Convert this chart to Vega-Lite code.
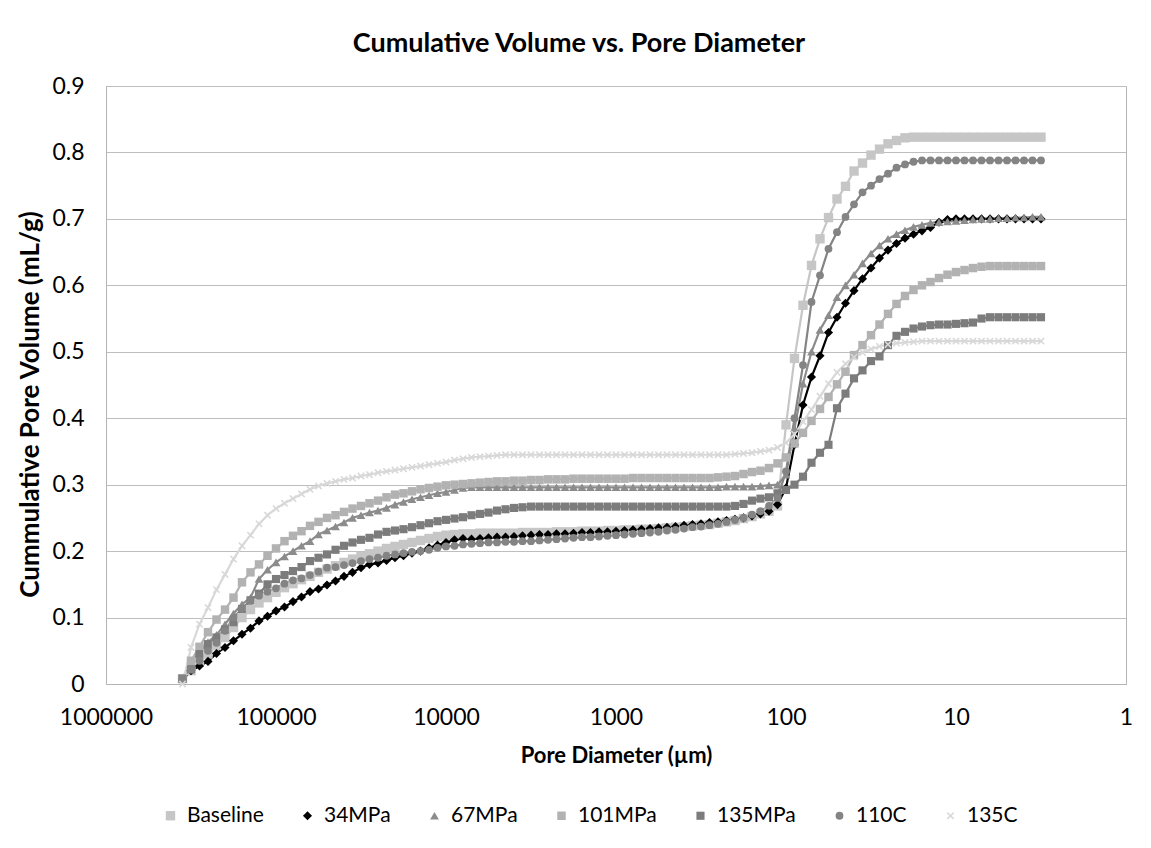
{
 "$schema": "https://vega.github.io/schema/vega-lite/v6.json",
 "width": 1020,
 "height": 598,
 "autosize": {"type": "none"},
 "padding": {"left": 106, "top": 86, "right": 25, "bottom": 164},
 "background": "white",
 "config": {
  "font": "Lato",
  "view": {"stroke": "#b4b4b4", "strokeWidth": 1},
  "axis": {"labelFont": "Lato", "titleFont": "Lato", "labelColor": "#000", "titleColor": "#000"}
 },
 "title": {"text": "Cumulative Volume vs. Pore Diameter", "font": "Lato", "fontSize": 27, "fontWeight": "bold", "color": "#000", "anchor": "middle", "offset": 17, "dx": -37},
 "data": {"values": [
  {"d":354813,"Baseline":0.008,"34MPa":0.006,"67MPa":0.008,"101MPa":0.008,"135MPa":0.008,"110C":0.008,"135C":0},
  {"d":316228,"Baseline":0.02,"34MPa":0.02,"67MPa":0.03,"101MPa":0.035,"135MPa":0.022,"110C":0.022,"135C":0.055},
  {"d":281838,"Baseline":0.033,"34MPa":0.027,"67MPa":0.05,"101MPa":0.056,"135MPa":0.045,"110C":0.035,"135C":0.09},
  {"d":251189,"Baseline":0.045,"34MPa":0.034,"67MPa":0.063,"101MPa":0.078,"135MPa":0.06,"110C":0.05,"135C":0.115},
  {"d":223872,"Baseline":0.058,"34MPa":0.046,"67MPa":0.074,"101MPa":0.097,"135MPa":0.07,"110C":0.062,"135C":0.142},
  {"d":199526,"Baseline":0.07,"34MPa":0.055,"67MPa":0.09,"101MPa":0.112,"135MPa":0.082,"110C":0.08,"135C":0.165},
  {"d":177828,"Baseline":0.085,"34MPa":0.065,"67MPa":0.106,"101MPa":0.13,"135MPa":0.093,"110C":0.1,"135C":0.188},
  {"d":158489,"Baseline":0.1,"34MPa":0.075,"67MPa":0.12,"101MPa":0.153,"135MPa":0.113,"110C":0.113,"135C":0.208},
  {"d":141254,"Baseline":0.112,"34MPa":0.084,"67MPa":0.13,"101MPa":0.168,"135MPa":0.126,"110C":0.125,"135C":0.224},
  {"d":125893,"Baseline":0.122,"34MPa":0.095,"67MPa":0.158,"101MPa":0.18,"135MPa":0.136,"110C":0.133,"135C":0.241},
  {"d":112202,"Baseline":0.13,"34MPa":0.102,"67MPa":0.172,"101MPa":0.193,"135MPa":0.15,"110C":0.139,"135C":0.254},
  {"d":100000,"Baseline":0.138,"34MPa":0.11,"67MPa":0.183,"101MPa":0.204,"135MPa":0.158,"110C":0.144,"135C":0.264},
  {"d":89125,"Baseline":0.145,"34MPa":0.116,"67MPa":0.192,"101MPa":0.215,"135MPa":0.164,"110C":0.151,"135C":0.272},
  {"d":79433,"Baseline":0.151,"34MPa":0.124,"67MPa":0.2,"101MPa":0.223,"135MPa":0.17,"110C":0.156,"135C":0.279},
  {"d":70795,"Baseline":0.157,"34MPa":0.131,"67MPa":0.208,"101MPa":0.23,"135MPa":0.176,"110C":0.159,"135C":0.286},
  {"d":63096,"Baseline":0.162,"34MPa":0.139,"67MPa":0.215,"101MPa":0.238,"135MPa":0.185,"110C":0.164,"135C":0.293},
  {"d":56234,"Baseline":0.168,"34MPa":0.143,"67MPa":0.225,"101MPa":0.244,"135MPa":0.19,"110C":0.169,"135C":0.298},
  {"d":50119,"Baseline":0.173,"34MPa":0.149,"67MPa":0.231,"101MPa":0.25,"135MPa":0.195,"110C":0.175,"135C":0.302},
  {"d":44668,"Baseline":0.178,"34MPa":0.155,"67MPa":0.237,"101MPa":0.254,"135MPa":0.202,"110C":0.176,"135C":0.305},
  {"d":39811,"Baseline":0.183,"34MPa":0.162,"67MPa":0.243,"101MPa":0.259,"135MPa":0.208,"110C":0.179,"135C":0.308},
  {"d":35481,"Baseline":0.188,"34MPa":0.168,"67MPa":0.25,"101MPa":0.264,"135MPa":0.213,"110C":0.182,"135C":0.31},
  {"d":31623,"Baseline":0.192,"34MPa":0.175,"67MPa":0.254,"101MPa":0.268,"135MPa":0.217,"110C":0.185,"135C":0.313},
  {"d":28184,"Baseline":0.196,"34MPa":0.18,"67MPa":0.258,"101MPa":0.272,"135MPa":0.22,"110C":0.188,"135C":0.315},
  {"d":25119,"Baseline":0.2,"34MPa":0.182,"67MPa":0.261,"101MPa":0.276,"135MPa":0.225,"110C":0.19,"135C":0.318},
  {"d":22387,"Baseline":0.204,"34MPa":0.186,"67MPa":0.265,"101MPa":0.281,"135MPa":0.229,"110C":0.193,"135C":0.32},
  {"d":19953,"Baseline":0.207,"34MPa":0.19,"67MPa":0.27,"101MPa":0.285,"135MPa":0.231,"110C":0.195,"135C":0.322},
  {"d":17783,"Baseline":0.21,"34MPa":0.193,"67MPa":0.274,"101MPa":0.287,"135MPa":0.233,"110C":0.197,"135C":0.324},
  {"d":15849,"Baseline":0.213,"34MPa":0.197,"67MPa":0.278,"101MPa":0.29,"135MPa":0.236,"110C":0.199,"135C":0.326},
  {"d":14125,"Baseline":0.216,"34MPa":0.2,"67MPa":0.281,"101MPa":0.293,"135MPa":0.239,"110C":0.2,"135C":0.328},
  {"d":12589,"Baseline":0.219,"34MPa":0.205,"67MPa":0.284,"101MPa":0.295,"135MPa":0.242,"110C":0.202,"135C":0.33},
  {"d":11220,"Baseline":0.222,"34MPa":0.209,"67MPa":0.287,"101MPa":0.297,"135MPa":0.245,"110C":0.205,"135C":0.332},
  {"d":10000,"Baseline":0.224,"34MPa":0.213,"67MPa":0.289,"101MPa":0.299,"135MPa":0.247,"110C":0.207,"135C":0.334},
  {"d":8913,"Baseline":0.225,"34MPa":0.217,"67MPa":0.292,"101MPa":0.3,"135MPa":0.249,"110C":0.208,"135C":0.337},
  {"d":7943,"Baseline":0.226,"34MPa":0.219,"67MPa":0.295,"101MPa":0.301,"135MPa":0.251,"110C":0.21,"135C":0.339},
  {"d":7079,"Baseline":0.226,"34MPa":0.218,"67MPa":0.296,"101MPa":0.302,"135MPa":0.254,"110C":0.211,"135C":0.341},
  {"d":6310,"Baseline":0.227,"34MPa":0.219,"67MPa":0.296,"101MPa":0.303,"135MPa":0.256,"110C":0.212,"135C":0.342},
  {"d":5623,"Baseline":0.227,"34MPa":0.22,"67MPa":0.296,"101MPa":0.304,"135MPa":0.258,"110C":0.213,"135C":0.343},
  {"d":5012,"Baseline":0.227,"34MPa":0.221,"67MPa":0.296,"101MPa":0.305,"135MPa":0.261,"110C":0.213,"135C":0.344},
  {"d":4467,"Baseline":0.227,"34MPa":0.221,"67MPa":0.296,"101MPa":0.305,"135MPa":0.263,"110C":0.214,"135C":0.345},
  {"d":3981,"Baseline":0.227,"34MPa":0.222,"67MPa":0.296,"101MPa":0.306,"135MPa":0.265,"110C":0.214,"135C":0.345},
  {"d":3548,"Baseline":0.228,"34MPa":0.223,"67MPa":0.296,"101MPa":0.306,"135MPa":0.266,"110C":0.215,"135C":0.345},
  {"d":3162,"Baseline":0.228,"34MPa":0.224,"67MPa":0.296,"101MPa":0.307,"135MPa":0.267,"110C":0.215,"135C":0.345},
  {"d":2818,"Baseline":0.228,"34MPa":0.225,"67MPa":0.296,"101MPa":0.307,"135MPa":0.267,"110C":0.216,"135C":0.345},
  {"d":2512,"Baseline":0.228,"34MPa":0.225,"67MPa":0.296,"101MPa":0.308,"135MPa":0.267,"110C":0.217,"135C":0.345},
  {"d":2239,"Baseline":0.229,"34MPa":0.226,"67MPa":0.296,"101MPa":0.308,"135MPa":0.267,"110C":0.218,"135C":0.345},
  {"d":1995,"Baseline":0.229,"34MPa":0.226,"67MPa":0.296,"101MPa":0.308,"135MPa":0.267,"110C":0.219,"135C":0.345},
  {"d":1778,"Baseline":0.229,"34MPa":0.227,"67MPa":0.296,"101MPa":0.309,"135MPa":0.267,"110C":0.22,"135C":0.345},
  {"d":1585,"Baseline":0.23,"34MPa":0.228,"67MPa":0.296,"101MPa":0.309,"135MPa":0.267,"110C":0.221,"135C":0.345},
  {"d":1413,"Baseline":0.23,"34MPa":0.228,"67MPa":0.296,"101MPa":0.309,"135MPa":0.267,"110C":0.221,"135C":0.345},
  {"d":1259,"Baseline":0.23,"34MPa":0.229,"67MPa":0.296,"101MPa":0.309,"135MPa":0.267,"110C":0.222,"135C":0.345},
  {"d":1122,"Baseline":0.231,"34MPa":0.229,"67MPa":0.296,"101MPa":0.309,"135MPa":0.267,"110C":0.223,"135C":0.345},
  {"d":1000,"Baseline":0.231,"34MPa":0.23,"67MPa":0.296,"101MPa":0.309,"135MPa":0.267,"110C":0.224,"135C":0.345},
  {"d":891.3,"Baseline":0.232,"34MPa":0.231,"67MPa":0.296,"101MPa":0.309,"135MPa":0.267,"110C":0.225,"135C":0.345},
  {"d":794.3,"Baseline":0.232,"34MPa":0.232,"67MPa":0.296,"101MPa":0.31,"135MPa":0.267,"110C":0.226,"135C":0.345},
  {"d":707.9,"Baseline":0.233,"34MPa":0.233,"67MPa":0.296,"101MPa":0.31,"135MPa":0.267,"110C":0.227,"135C":0.345},
  {"d":631.0,"Baseline":0.233,"34MPa":0.234,"67MPa":0.296,"101MPa":0.31,"135MPa":0.267,"110C":0.228,"135C":0.345},
  {"d":562.3,"Baseline":0.234,"34MPa":0.235,"67MPa":0.296,"101MPa":0.31,"135MPa":0.267,"110C":0.229,"135C":0.345},
  {"d":501.2,"Baseline":0.235,"34MPa":0.236,"67MPa":0.296,"101MPa":0.31,"135MPa":0.267,"110C":0.231,"135C":0.345},
  {"d":446.7,"Baseline":0.236,"34MPa":0.237,"67MPa":0.296,"101MPa":0.31,"135MPa":0.267,"110C":0.232,"135C":0.345},
  {"d":398.1,"Baseline":0.237,"34MPa":0.239,"67MPa":0.296,"101MPa":0.31,"135MPa":0.267,"110C":0.234,"135C":0.345},
  {"d":354.8,"Baseline":0.238,"34MPa":0.24,"67MPa":0.296,"101MPa":0.31,"135MPa":0.267,"110C":0.236,"135C":0.345},
  {"d":316.2,"Baseline":0.239,"34MPa":0.241,"67MPa":0.296,"101MPa":0.31,"135MPa":0.267,"110C":0.237,"135C":0.345},
  {"d":281.8,"Baseline":0.24,"34MPa":0.243,"67MPa":0.296,"101MPa":0.31,"135MPa":0.267,"110C":0.239,"135C":0.345},
  {"d":251.2,"Baseline":0.242,"34MPa":0.244,"67MPa":0.296,"101MPa":0.311,"135MPa":0.267,"110C":0.241,"135C":0.345},
  {"d":223.9,"Baseline":0.244,"34MPa":0.246,"67MPa":0.297,"101MPa":0.312,"135MPa":0.267,"110C":0.244,"135C":0.345},
  {"d":199.5,"Baseline":0.246,"34MPa":0.248,"67MPa":0.297,"101MPa":0.313,"135MPa":0.268,"110C":0.247,"135C":0.346},
  {"d":177.8,"Baseline":0.249,"34MPa":0.25,"67MPa":0.297,"101MPa":0.316,"135MPa":0.271,"110C":0.25,"135C":0.347},
  {"d":158.5,"Baseline":0.252,"34MPa":0.253,"67MPa":0.297,"101MPa":0.319,"135MPa":0.276,"110C":0.255,"135C":0.348},
  {"d":141.3,"Baseline":0.256,"34MPa":0.256,"67MPa":0.298,"101MPa":0.321,"135MPa":0.279,"110C":0.26,"135C":0.35},
  {"d":125.9,"Baseline":0.26,"34MPa":0.26,"67MPa":0.299,"101MPa":0.325,"135MPa":0.281,"110C":0.268,"135C":0.352},
  {"d":112.2,"Baseline":0.268,"34MPa":0.27,"67MPa":0.3,"101MPa":0.332,"135MPa":0.287,"110C":0.28,"135C":0.356},
  {"d":100,"Baseline":0.39,"34MPa":0.295,"67MPa":0.315,"101MPa":0.341,"135MPa":0.292,"110C":0.32,"135C":0.363},
  {"d":89.13,"Baseline":0.49,"34MPa":0.36,"67MPa":0.385,"101MPa":0.362,"135MPa":0.3,"110C":0.4,"135C":0.376},
  {"d":79.43,"Baseline":0.57,"34MPa":0.42,"67MPa":0.452,"101MPa":0.378,"135MPa":0.312,"110C":0.48,"135C":0.395},
  {"d":70.79,"Baseline":0.63,"34MPa":0.462,"67MPa":0.5,"101MPa":0.396,"135MPa":0.333,"110C":0.575,"135C":0.413},
  {"d":63.10,"Baseline":0.67,"34MPa":0.494,"67MPa":0.533,"101MPa":0.414,"135MPa":0.348,"110C":0.615,"135C":0.433},
  {"d":56.23,"Baseline":0.702,"34MPa":0.529,"67MPa":0.555,"101MPa":0.432,"135MPa":0.36,"110C":0.655,"135C":0.452},
  {"d":50.12,"Baseline":0.73,"34MPa":0.552,"67MPa":0.582,"101MPa":0.451,"135MPa":0.415,"110C":0.68,"135C":0.469},
  {"d":44.67,"Baseline":0.749,"34MPa":0.573,"67MPa":0.6,"101MPa":0.47,"135MPa":0.437,"110C":0.703,"135C":0.482},
  {"d":39.81,"Baseline":0.772,"34MPa":0.592,"67MPa":0.616,"101MPa":0.495,"135MPa":0.46,"110C":0.722,"135C":0.492},
  {"d":35.48,"Baseline":0.784,"34MPa":0.61,"67MPa":0.633,"101MPa":0.51,"135MPa":0.472,"110C":0.74,"135C":0.499},
  {"d":31.62,"Baseline":0.796,"34MPa":0.626,"67MPa":0.648,"101MPa":0.525,"135MPa":0.486,"110C":0.75,"135C":0.504},
  {"d":28.18,"Baseline":0.805,"34MPa":0.641,"67MPa":0.66,"101MPa":0.541,"135MPa":0.493,"110C":0.76,"135C":0.508},
  {"d":25.12,"Baseline":0.813,"34MPa":0.653,"67MPa":0.67,"101MPa":0.557,"135MPa":0.51,"110C":0.768,"135C":0.511},
  {"d":22.39,"Baseline":0.818,"34MPa":0.663,"67MPa":0.677,"101MPa":0.572,"135MPa":0.524,"110C":0.777,"135C":0.513},
  {"d":19.95,"Baseline":0.822,"34MPa":0.671,"67MPa":0.683,"101MPa":0.584,"135MPa":0.53,"110C":0.782,"135C":0.514},
  {"d":17.78,"Baseline":0.823,"34MPa":0.677,"67MPa":0.688,"101MPa":0.593,"135MPa":0.535,"110C":0.786,"135C":0.515},
  {"d":15.85,"Baseline":0.823,"34MPa":0.682,"67MPa":0.691,"101MPa":0.6,"135MPa":0.538,"110C":0.788,"135C":0.516},
  {"d":14.13,"Baseline":0.823,"34MPa":0.687,"67MPa":0.694,"101MPa":0.605,"135MPa":0.54,"110C":0.788,"135C":0.516},
  {"d":12.59,"Baseline":0.823,"34MPa":0.695,"67MPa":0.695,"101MPa":0.611,"135MPa":0.541,"110C":0.788,"135C":0.516},
  {"d":11.22,"Baseline":0.823,"34MPa":0.699,"67MPa":0.696,"101MPa":0.616,"135MPa":0.541,"110C":0.788,"135C":0.516},
  {"d":10,"Baseline":0.823,"34MPa":0.7,"67MPa":0.697,"101MPa":0.62,"135MPa":0.542,"110C":0.788,"135C":0.516},
  {"d":8.913,"Baseline":0.823,"34MPa":0.7,"67MPa":0.698,"101MPa":0.623,"135MPa":0.543,"110C":0.788,"135C":0.516},
  {"d":7.943,"Baseline":0.823,"34MPa":0.7,"67MPa":0.699,"101MPa":0.626,"135MPa":0.544,"110C":0.788,"135C":0.516},
  {"d":7.079,"Baseline":0.823,"34MPa":0.7,"67MPa":0.7,"101MPa":0.628,"135MPa":0.55,"110C":0.788,"135C":0.516},
  {"d":6.310,"Baseline":0.823,"34MPa":0.7,"67MPa":0.7,"101MPa":0.629,"135MPa":0.552,"110C":0.788,"135C":0.516},
  {"d":5.623,"Baseline":0.823,"34MPa":0.7,"67MPa":0.701,"101MPa":0.629,"135MPa":0.552,"110C":0.788,"135C":0.516},
  {"d":5.012,"Baseline":0.823,"34MPa":0.7,"67MPa":0.701,"101MPa":0.629,"135MPa":0.552,"110C":0.788,"135C":0.516},
  {"d":4.467,"Baseline":0.823,"34MPa":0.7,"67MPa":0.702,"101MPa":0.629,"135MPa":0.552,"110C":0.788,"135C":0.516},
  {"d":3.981,"Baseline":0.823,"34MPa":0.7,"67MPa":0.702,"101MPa":0.629,"135MPa":0.552,"110C":0.788,"135C":0.516},
  {"d":3.548,"Baseline":0.823,"34MPa":0.7,"67MPa":0.703,"101MPa":0.629,"135MPa":0.552,"110C":0.788,"135C":0.516},
  {"d":3.162,"Baseline":0.823,"34MPa":0.7,"67MPa":0.703,"101MPa":0.629,"135MPa":0.552,"110C":0.788,"135C":0.516}
 ]},
 "transform": [{"fold": ["Baseline", "34MPa", "67MPa", "101MPa", "135MPa", "110C", "135C"], "as": ["series", "v"]}],
 "encoding": {
  "x": {"field": "d", "type": "quantitative",
   "scale": {"type": "log", "domain": [1, 1000000], "reverse": true, "nice": false},
   "axis": {"title": "Pore Diameter (µm)", "values": [1, 10, 100, 1000, 10000, 100000, 1000000], "format": "d", "grid": false, "ticks": false, "domainColor": "#b4b4b4", "labelFontSize": 23, "labelPadding": 22, "labelFlush": false, "titleFontSize": 22, "titleFontWeight": "bold", "titlePadding": 16}},
  "y": {"field": "v", "type": "quantitative",
   "scale": {"domain": [0, 0.9], "nice": false},
   "axis": {"title": "Cummulative Pore Volume  (mL/g)", "values": [0, 0.1, 0.2, 0.3, 0.4, 0.5, 0.6, 0.7, 0.8, 0.9], "format": "~g", "grid": true, "gridColor": "#bebebe", "ticks": false, "domainColor": "#b4b4b4", "labelFontSize": 23, "labelPadding": 22, "titleFontSize": 26, "titleFontWeight": "bold", "titlePadding": 8, "titleY": 318}},
  "color": {"field": "series", "type": "nominal",
   "scale": {"domain": ["Baseline", "34MPa", "67MPa", "101MPa", "135MPa", "110C", "135C"], "range": ["#c6c6c6", "#000000", "#8c8c8c", "#b2b2b2", "#7c7c7c", "#848484", "#d8d8d8"]},
   "legend": {"title": null, "orient": "none", "direction": "horizontal", "legendX": 54, "legendY": 719, "labelFont": "Lato", "labelFontSize": 21, "labelColor": "#000", "labelOffset": 6, "columnPadding": 33, "symbolSize": 90, "symbolStrokeWidth": 0}}
 },
 "layer": [
  {"mark": {"type": "line", "strokeWidth": 2.2}},
  {"mark": {"type": "point", "filled": true, "opacity": 1},
   "encoding": {
    "shape": {"field": "series", "type": "nominal",
     "scale": {"domain": ["Baseline", "34MPa", "67MPa", "101MPa", "135MPa", "110C", "135C"], "range": ["square", "diamond", "triangle-up", "square", "square", "circle", "M-1,-0.7L-0.7,-1L0,-0.3L0.7,-1L1,-0.7L0.3,0L1,0.7L0.7,1L0,0.3L-0.7,1L-1,0.7L-0.3,0Z"]}},
    "size": {"field": "series", "type": "ordinal",
     "scale": {"domain": ["Baseline", "34MPa", "67MPa", "101MPa", "135MPa", "110C", "135C"], "range": [88, 55, 75, 55, 100, 80, 100]}, "legend": null}
   }}
 ]
}
